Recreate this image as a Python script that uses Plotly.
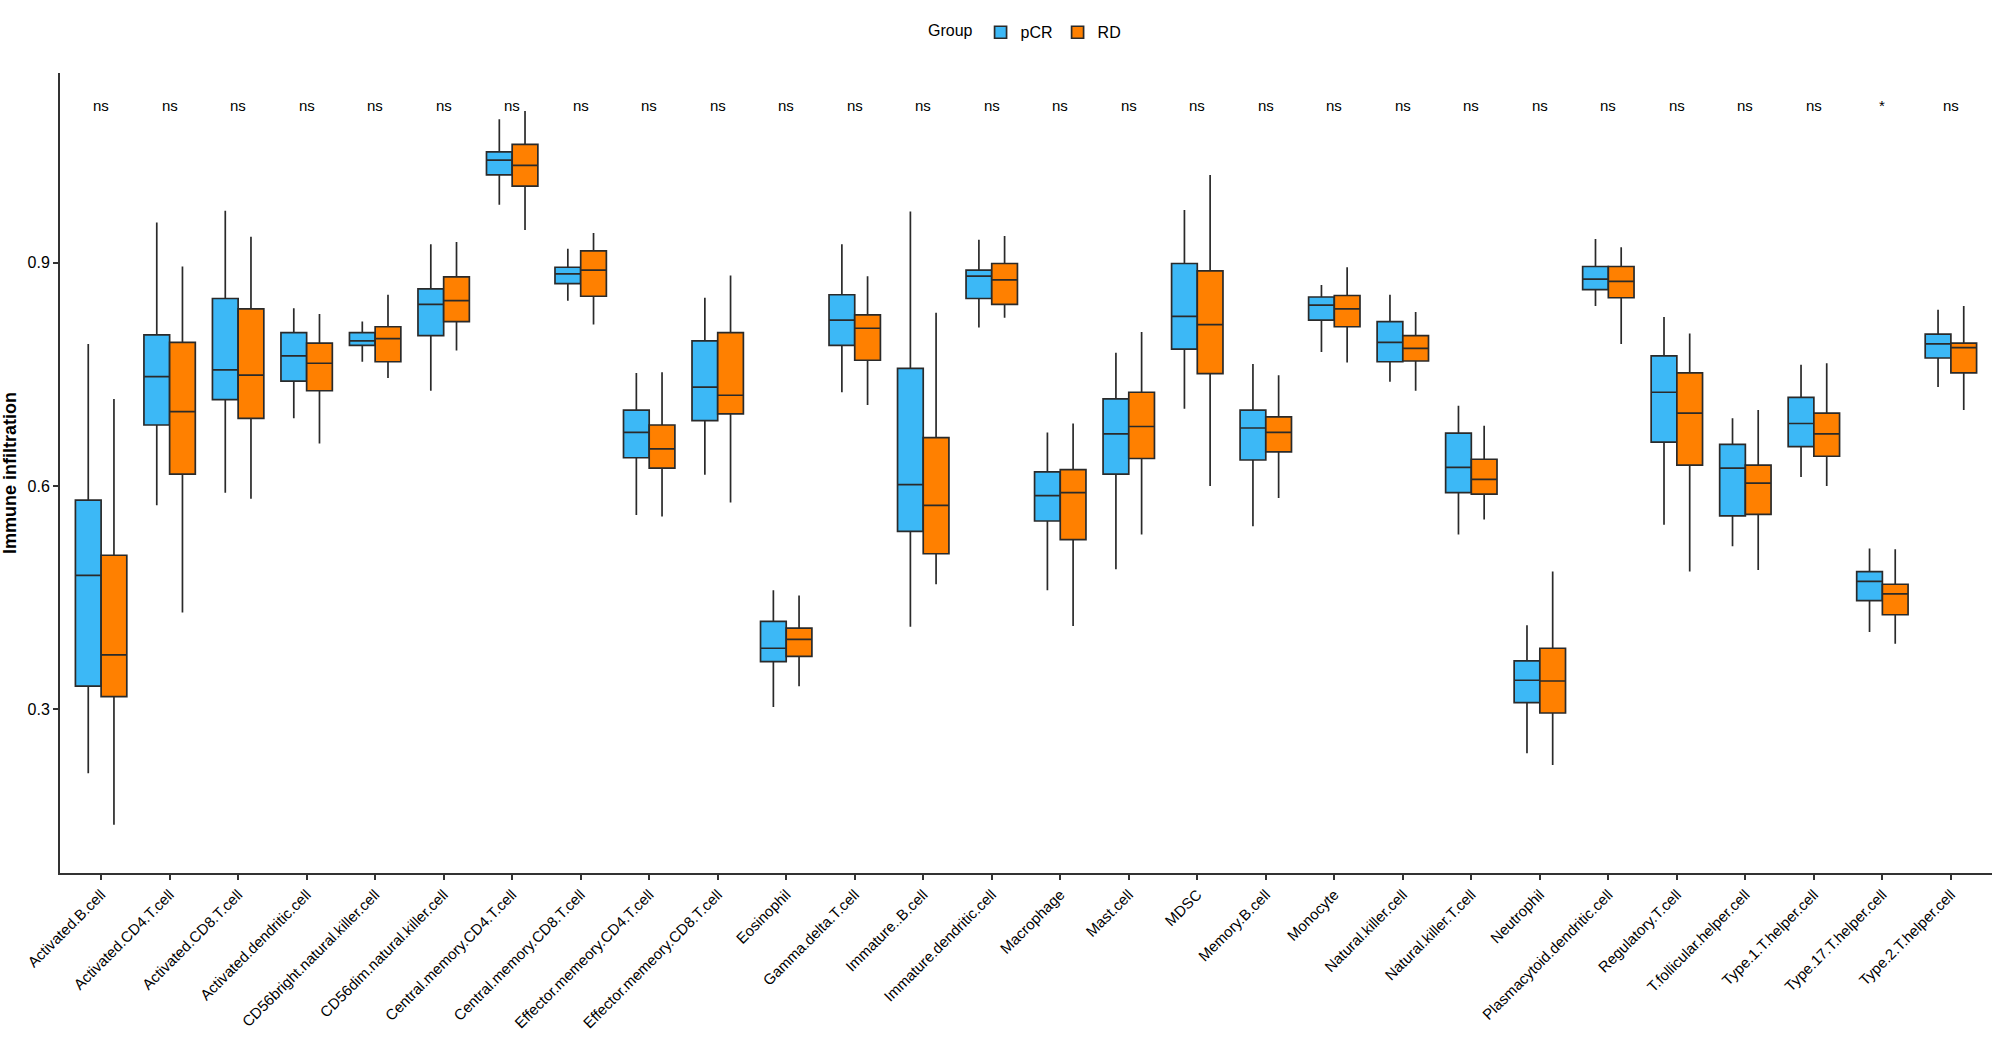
import plotly.graph_objects as go

categories = [
    "Activated.B.cell", "Activated.CD4.T.cell", "Activated.CD8.T.cell", "Activated.dendritic.cell",
    "CD56bright.natural.killer.cell", "CD56dim.natural.killer.cell", "Central.memory.CD4.T.cell",
    "Central.memory.CD8.T.cell", "Effector.memeory.CD4.T.cell", "Effector.memeory.CD8.T.cell",
    "Eosinophil", "Gamma.delta.T.cell", "Immature..B.cell", "Immature.dendritic.cell",
    "Macrophage", "Mast.cell", "MDSC", "Memory.B.cell", "Monocyte", "Natural.killer.cell",
    "Natural.killer.T.cell", "Neutrophil", "Plasmacytoid.dendritic.cell", "Regulatory.T.cell",
    "T.follicular.helper.cell", "Type.1.T.helper.cell", "Type.17.T.helper.cell", "Type.2.T.helper.cell",
]

# pCR group
pcr_upper = [0.791, 0.954, 0.970, 0.839, 0.821, 0.925, 1.093, 0.919, 0.752, 0.853, 0.460, 0.925, 0.969, 0.931,
             0.672, 0.779, 0.971, 0.764, 0.870, 0.857, 0.708, 0.413, 0.932, 0.827, 0.691, 0.763, 0.516, 0.837]
pcr_q3 = [0.581, 0.803, 0.852, 0.806, 0.806, 0.865, 1.049, 0.894, 0.702, 0.795, 0.418, 0.857, 0.758, 0.890,
          0.619, 0.717, 0.899, 0.702, 0.854, 0.821, 0.671, 0.365, 0.895, 0.775, 0.656, 0.719, 0.485, 0.804]
pcr_median = [0.480, 0.747, 0.756, 0.775, 0.795, 0.844, 1.038, 0.885, 0.672, 0.733, 0.382, 0.823, 0.602, 0.882,
              0.587, 0.670, 0.828, 0.678, 0.843, 0.793, 0.625, 0.339, 0.878, 0.726, 0.624, 0.684, 0.472, 0.791]
pcr_q1 = [0.331, 0.682, 0.716, 0.741, 0.789, 0.802, 1.018, 0.872, 0.638, 0.688, 0.364, 0.789, 0.539, 0.852,
          0.553, 0.616, 0.784, 0.635, 0.823, 0.767, 0.591, 0.309, 0.864, 0.659, 0.560, 0.653, 0.446, 0.772]
pcr_lower = [0.214, 0.574, 0.591, 0.691, 0.767, 0.728, 0.978, 0.849, 0.561, 0.615, 0.303, 0.726, 0.411, 0.813,
             0.460, 0.488, 0.704, 0.546, 0.780, 0.740, 0.535, 0.241, 0.842, 0.548, 0.519, 0.612, 0.404, 0.733]

# RD group
rd_upper = [0.717, 0.895, 0.935, 0.831, 0.857, 0.928, 1.104, 0.940, 0.753, 0.883, 0.453, 0.882, 0.833, 0.936,
            0.684, 0.807, 1.018, 0.749, 0.894, 0.834, 0.681, 0.485, 0.921, 0.805, 0.702, 0.765, 0.515, 0.842]
rd_q3 = [0.507, 0.793, 0.838, 0.792, 0.814, 0.881, 1.059, 0.916, 0.682, 0.806, 0.409, 0.830, 0.665, 0.899,
         0.622, 0.726, 0.889, 0.693, 0.856, 0.802, 0.636, 0.382, 0.895, 0.752, 0.628, 0.698, 0.468, 0.792]
rd_median = [0.373, 0.700, 0.749, 0.765, 0.798, 0.849, 1.031, 0.890, 0.650, 0.722, 0.394, 0.812, 0.574, 0.877,
             0.591, 0.680, 0.817, 0.672, 0.838, 0.785, 0.609, 0.338, 0.875, 0.698, 0.604, 0.670, 0.455, 0.786]
rd_q1 = [0.317, 0.616, 0.691, 0.728, 0.767, 0.821, 1.003, 0.855, 0.624, 0.697, 0.371, 0.769, 0.509, 0.844,
         0.528, 0.637, 0.751, 0.646, 0.814, 0.768, 0.589, 0.295, 0.853, 0.628, 0.562, 0.640, 0.427, 0.752]
rd_lower = [0.145, 0.430, 0.583, 0.657, 0.745, 0.782, 0.944, 0.817, 0.559, 0.578, 0.331, 0.709, 0.468, 0.826,
            0.412, 0.535, 0.600, 0.584, 0.766, 0.728, 0.555, 0.225, 0.791, 0.485, 0.487, 0.600, 0.388, 0.702]

significance = ["ns", "ns", "ns", "ns", "ns", "ns", "ns", "ns", "ns", "ns", "ns", "ns", "ns", "ns",
                "ns", "ns", "ns", "ns", "ns", "ns", "ns", "ns", "ns", "ns", "ns", "ns", "*", "ns"]
sig_y = 1.112

y_ticks = [0.3, 0.6, 0.9]

FONT = "Liberation Sans, Arial, sans-serif"
PCR_COLOR = "#3CB8F6"
RD_COLOR = "#FF8000"
EDGE = "#2a2a2a"

fig = go.Figure()
for name, color, lo, q1, med, q3, up in [
    ("pCR", PCR_COLOR, pcr_lower, pcr_q1, pcr_median, pcr_q3, pcr_upper),
    ("RD", RD_COLOR, rd_lower, rd_q1, rd_median, rd_q3, rd_upper),
]:
    fig.add_trace(go.Box(
        x=categories, q1=q1, median=med, q3=q3, lowerfence=lo, upperfence=up,
        name=name, fillcolor=color, line=dict(color=EDGE, width=1.7),
        whiskerwidth=0, boxpoints=False,
    ))

for c, s in zip(categories, significance):
    fig.add_annotation(x=c, y=sig_y, text=s, showarrow=False,
                       font=dict(family=FONT, size=15, color="black"))

fig.update_layout(
    width=2000, height=1043,
    margin=dict(l=60, r=8, t=73, b=170),
    paper_bgcolor="white", plot_bgcolor="white",
    boxmode="group", boxgap=0.25, boxgroupgap=0,
    font=dict(family=FONT, color="black"),
    legend=dict(
        orientation="h", x=0.5, xanchor="center", yref="container", y=0.969, yanchor="middle",
        title=dict(text="Group", side="left", font=dict(size=16, family=FONT)),
        font=dict(size=16, family=FONT),
    ),
    xaxis=dict(
        type="category", range=[-0.6, len(categories) - 0.4], automargin=False,
        showline=True, linecolor="#333333", linewidth=2, mirror=False,
        ticks="outside", ticklen=5, tickwidth=1.5, tickcolor="#333333",
        tickangle=-45, tickfont=dict(size=15, family=FONT, color="black"),
        showgrid=False, zeroline=False,
    ),
    yaxis=dict(
        range=[0.08, 1.155], tickvals=y_ticks, ticktext=[f"{v:.1f}" for v in y_ticks],
        showline=True, linecolor="#333333", linewidth=2, automargin=False,
        ticks="outside", ticklen=5, tickwidth=1.5, tickcolor="#333333",
        tickfont=dict(size=16, family=FONT, color="black"),
        showgrid=False, zeroline=False,
        title=dict(text="<b>Immune infiltration</b>", font=dict(size=18, family=FONT, color="black"), standoff=8),
    ),
)

fig.write_html("out.html", config={"displayModeBar": False},
               post_script="document.body.style.margin='0';")
